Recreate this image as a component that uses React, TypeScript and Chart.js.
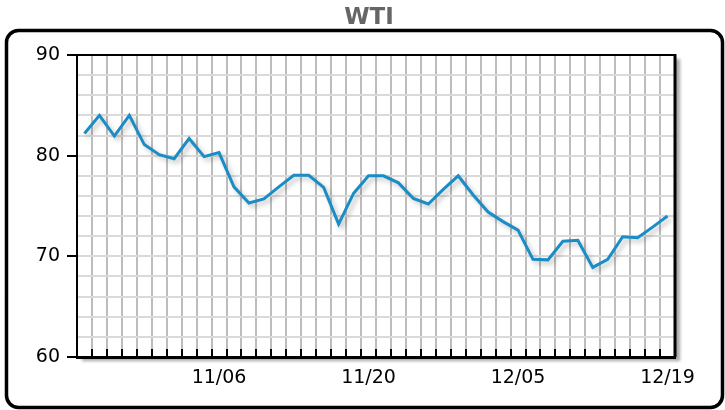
import React, { useEffect, useRef } from "react";
import { Chart, registerables } from "chart.js";

Chart.register(...registerables);

const dates = [
  "10/24", "10/25", "10/26", "10/27", "10/30", "10/31", "11/01", "11/02", "11/03", "11/06",
  "11/07", "11/08", "11/09", "11/10", "11/13", "11/14", "11/15", "11/16", "11/17", "11/20",
  "11/21", "11/22", "11/24", "11/27", "11/28", "11/29", "11/30", "12/01", "12/04", "12/05",
  "12/06", "12/07", "12/08", "12/11", "12/12", "12/13", "12/14", "12/15", "12/18", "12/19",
];

const wti = [
  82.2, 84.0, 81.95, 84.0, 81.1, 80.1, 79.7, 81.7, 79.9, 80.3,
  76.9, 75.3, 75.7, 76.9, 78.05, 78.05, 76.85, 73.2, 76.25, 78.0,
  78.0, 77.3, 75.75, 75.2, 76.65, 78.0, 76.1, 74.4, 73.45, 72.6,
  69.7, 69.65, 71.5, 71.6, 68.9, 69.7, 71.95, 71.85, 72.9, 74.0,
];

const titleText = "WTI";
const shownDates = ["11/06", "11/20", "12/05", "12/19"];
const yMin = 60;
const yMax = 90;
const yLabelStep = 10;
const yGridStep = 2;

const decorPlugin = {
  id: "decor",
  beforeDraw(chart: any) {
    const { ctx, chartArea: a } = chart;
    ctx.save();
    // title
    ctx.fillStyle = "#666";
    ctx.font = "bold 23px 'DejaVu Sans'";
    ctx.textAlign = "center";
    ctx.textBaseline = "middle";
    ctx.fillText(titleText, 369, 18);
    // outer frame
    ctx.beginPath();
    ctx.lineWidth = 3.5;
    ctx.strokeStyle = "#000";
    (ctx as any).roundRect(6.5, 30.5, 716, 377, 12);
    ctx.stroke();
    // plot shadow
    ctx.shadowColor = "rgba(0,0,0,0.35)";
    ctx.shadowBlur = 3;
    ctx.shadowOffsetX = 5;
    ctx.shadowOffsetY = 4;
    ctx.fillStyle = "#fff";
    ctx.fillRect(a.left, a.top, a.right - a.left, a.bottom - a.top);
    ctx.restore();
  },
  beforeDatasetsDraw(chart: any) {
    const { ctx, chartArea: a } = chart;
    const xs = chart.scales.x;
    ctx.save();
    ctx.strokeStyle = "#000";
    ctx.lineWidth = 2;
    ctx.beginPath();
    ctx.moveTo(a.left, a.top);
    ctx.lineTo(a.right, a.top);
    ctx.stroke();
    ctx.lineWidth = 3;
    ctx.beginPath();
    ctx.moveTo(a.right, a.top - 1);
    ctx.lineTo(a.right, a.bottom);
    ctx.stroke();
    ctx.lineWidth = 2;
    for (let i = 0; i <= dates.length; i++) {
      const x = Math.round(xs.getPixelForValue(i - 0.5));
      ctx.beginPath();
      ctx.moveTo(x, a.bottom);
      ctx.lineTo(x, a.bottom - 8);
      ctx.stroke();
    }
    ctx.restore();
    ctx.save();
    ctx.shadowColor = "rgba(0,0,0,0.25)";
    ctx.shadowBlur = 5;
    ctx.shadowOffsetX = 3;
    ctx.shadowOffsetY = 3;
  },
  afterDatasetsDraw(chart: any) {
    chart.ctx.restore();
  },
};

export default function App() {
  const ref = useRef<HTMLCanvasElement | null>(null);

  useEffect(() => {
    document.body.style.margin = "0";
    const canvas = ref.current;
    if (!canvas) return;
    const chart = new Chart(canvas, {
      type: "line",
      data: {
        labels: dates,
        datasets: [
          {
            label: titleText,
            data: wti,
            borderColor: "#1a8dc6",
            borderWidth: 3,
            pointRadius: 0,
            tension: 0,
            fill: false,
          },
        ],
      },
      options: {
        animation: false,
        responsive: false,
        devicePixelRatio: 1,
        layout: { padding: { left: 0, right: 50, top: 55, bottom: 0 } },
        plugins: {
          legend: { display: false },
          tooltip: { enabled: false },
          title: { display: false },
        },
        scales: {
          x: {
            type: "category",
            offset: true,
            grid: {
              offset: true,
              color: "#bdbdbd",
              lineWidth: 2,
              drawTicks: false,
            },
            border: { display: true, color: "#000", width: 3 },
            ticks: {
              autoSkip: false,
              maxRotation: 0,
              padding: 10,
              color: "#000",
              font: { family: "DejaVu Sans", size: 19 },
              callback: (_v: any, i: number) => (shownDates.includes(dates[i]) ? dates[i] : ""),
            },
            afterFit: (s: any) => {
              s.height = 53;
            },
          },
          y: {
            min: yMin,
            max: yMax,
            grid: {
              color: "#dadada",
              lineWidth: 2,
              drawTicks: true,
              tickLength: 10,
              tickWidth: 2,
              tickColor: (c: any) => (c.tick && c.tick.value % yLabelStep === 0 ? "#000" : "rgba(0,0,0,0)"),
            },
            border: { display: true, color: "#000", width: 2 },
            ticks: {
              autoSkip: false,
              stepSize: yGridStep,
              padding: 7,
              color: "#000",
              font: { family: "DejaVu Sans", size: 19 },
              callback: (v: any) => (Number(v) % yLabelStep === 0 ? String(v) : ""),
            },
            afterFit: (s: any) => {
              s.width = 77;
            },
          },
        },
      },
      plugins: [decorPlugin],
    } as any);
    return () => chart.destroy();
  }, []);

  return (
    <div style={{ width: 725, height: 410 }}>
      <canvas ref={ref} width={725} height={410} />
    </div>
  );
}
